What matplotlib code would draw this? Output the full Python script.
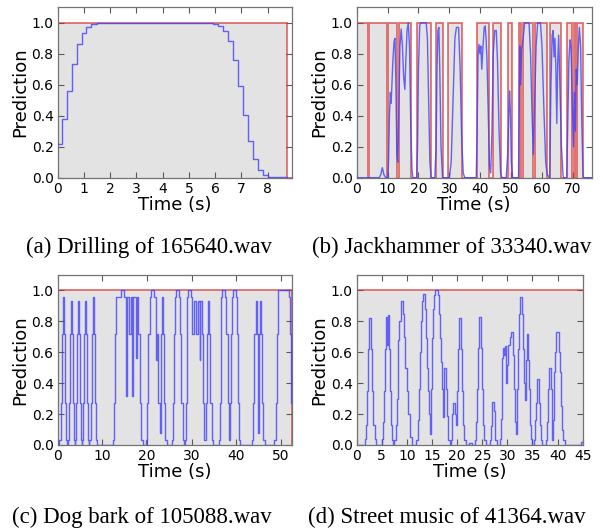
import numpy as np
import matplotlib
matplotlib.use("Agg")
import matplotlib.pyplot as plt

plt.rcParams["font.family"] = ["DejaVu Sans"]

# ---------------- data ----------------
# (a) Drilling of 165640.wav  (step prediction, ground-truth segments)
a_time = [0, 0.165, 0.343, 0.533, 0.724, 0.914, 1.08, 1.27, 1.486,
          5.93, 6.12, 6.31, 6.50, 6.67, 6.86, 7.07, 7.26, 7.45, 7.64, 7.83, 8.03, 8.75]
a_pred = [0.216, 0.377, 0.56, 0.733, 0.862, 0.937, 0.976, 0.994, 1.0,
          0.99, 0.98, 0.95, 0.88, 0.76, 0.59, 0.405, 0.235, 0.118, 0.047, 0.017, 0.004, 0.0]
a_on, a_off = [0.0], [8.75]
a_xmax = 8.94

# (b) Jackhammer of 33340.wav
b_time = [0, 7.3, 7.8, 8.3, 8.8, 9.4, 10.1,
          10.3, 10.6, 10.9, 11.1, 11.3, 11.7, 12.1, 12.4, 12.7, 13.0, 13.3, 13.6, 14.0, 14.4, 14.8,
          15.2, 15.6, 15.9, 16.3, 16.7, 17.1, 17.5, 17.9, 18.2,
          19.4, 19.7, 20.0, 20.4, 20.7, 22.5, 22.9, 23.3, 23.7, 24.1,
          25.3, 25.7, 26.0, 26.3, 26.6, 26.9, 27.3, 27.8,
          30.0, 30.6, 31.2, 31.8, 32.3, 33.0, 33.5, 34.0, 34.5, 35.0,
          38.7, 39.0, 39.3, 39.6, 39.9, 40.2, 40.5, 40.9, 41.3, 41.6, 41.9, 42.2, 42.6, 43.0, 43.4,
          43.8, 44.2, 44.7, 45.2, 45.6, 46.1, 46.6, 47.0,
          48.4, 48.9, 49.3, 49.5, 49.8, 50.1, 50.5,
          52.4, 52.6, 52.8, 53.1, 53.4, 53.9, 54.4, 55.0, 55.8, 56.3, 56.8, 57.2, 57.6, 58.1, 58.6,
          59.5, 60.0, 60.6, 61.2, 61.7,
          62.5, 62.9, 63.3, 63.6, 63.9, 64.2, 64.5, 64.8, 65.1, 65.4, 65.8, 66.3, 66.8, 67.0,
          68.0, 68.3, 68.7, 69.1, 69.4, 69.8, 70.2, 70.5, 70.8, 71.1, 71.4, 71.8, 72.1, 72.5, 72.9,
          73.3, 73.5, 76.1]
b_pred = [0, 0, 0.02, 0.065, 0.02, 0, 0,
          0.1, 0.4, 0.55, 0.48, 0.55, 0.75, 0.88, 0.9, 0.6, 0.15, 0.1, 0.4, 0.85, 0.96, 0.85,
          0.65, 0.57, 0.75, 0.95, 1.0, 0.85, 0.35, 0.05, 0,
          0, 0.2, 0.7, 0.98, 1.0, 1.0, 0.9, 0.5, 0.1, 0,
          0, 0.2, 0.7, 0.95, 0.97, 0.7, 0.2, 0,
          0, 0.1, 0.5, 0.9, 0.97, 0.97, 0.7, 0.25, 0.03, 0,
          0, 0.3, 0.8, 0.86, 0.8, 0.85, 0.7, 0.85, 0.97, 0.98, 0.9, 0.75, 0.4, 0.08, 0.03,
          0.3, 0.8, 0.95, 0.95, 0.75, 0.3, 0.03, 0,
          0, 0.15, 0.45, 0.56, 0.4, 0.1, 0,
          0, 0.4, 0.85, 0.6, 0.82, 0.9, 1.0, 1.0, 1.0, 0.8, 0.4, 0.15, 0.45, 0.85, 1.0,
          1.0, 0.85, 0.45, 0.1, 0.02,
          0, 0.6, 0.92, 0.95, 0.78, 0.9, 0.7, 0.35, 0.75, 0.92, 0.6, 0.2, 0.02, 0,
          0, 0.3, 0.75, 0.89, 0.85, 0.5, 0.2, 0.55, 0.3, 0.7, 0.6, 0.85, 0.97, 0.85, 0.35,
          0.02, 0, 0]
b_on = [0.0, 4.1, 10.2, 13.6, 19.4, 25.8, 29.6, 39.1, 44.0, 48.9, 52.4, 53.7, 57.6, 62.5,
        68.0, 70.4, 71.3]
b_off = [3.5, 9.9, 13.0, 17.6, 24.0, 27.9, 34.0, 43.0, 46.7, 50.3, 53.2, 57.2, 61.7, 66.2,
         69.7, 71.1, 73.2]
b_xmax = 76.1

# (c) Dog bark of 105088.wav  (step prediction)
c_time = [0, 0.4, 0.7, 0.9, 1.13, 1.37, 1.6, 1.8, 2.05,
          2.25, 2.55, 2.75, 2.98, 3.22, 3.45, 3.65, 3.85,
          3.9, 4.15, 4.35, 4.58, 4.82, 5.05, 5.25, 5.45,
          5.5, 5.75, 5.95, 6.18, 6.42, 6.65, 6.85, 7.05,
          7.1, 7.4, 7.6, 7.83, 8.07, 8.3, 8.5, 8.8,
          12.3, 12.6, 12.85, 13.1, 14.3, 14.95, 15.35, 15.55, 15.95, 16.45, 16.7, 16.9, 17.5,
          17.7, 18.05, 18.35, 18.65, 19.05,
          19.8, 20.1, 20.35, 20.6, 20.9, 21.65, 22.1, 22.25, 22.55, 22.95, 23.2, 23.4, 23.65,
          23.9, 24.15, 24.4,
          25.7, 25.95, 26.15, 26.3, 26.45, 27.2, 27.4, 27.7, 28.0, 28.4,
          28.65, 28.8, 28.95, 29.05, 29.2, 29.85, 30.1, 30.55, 30.95, 31.45, 31.85, 32.0, 32.35,
          32.6, 32.9, 33.15, 33.4, 33.65, 33.95, 34.2, 34.5, 34.9,
          36.1, 36.35, 36.55, 36.7, 36.85, 37.6, 37.8, 38.1, 38.4, 38.65, 38.85, 39.05, 39.3,
          40.0, 40.2, 40.45, 40.65, 40.95,
          43.6, 43.9, 44.1, 44.4, 44.7, 44.95, 45.1, 45.3, 45.55, 45.8, 46.05, 46.4,
          48.6, 48.9, 49.1, 49.3, 49.5, 51.95, 52.15, 52.35, 52.55]
c_pred = [0, 0.03, 0.27, 0.72, 0.96, 0.72, 0.27, 0.03, 0,
          0.03, 0.27, 0.72, 0.93, 0.72, 0.27, 0.03, 0,
          0.03, 0.27, 0.72, 0.93, 0.72, 0.27, 0.03, 0,
          0.03, 0.27, 0.72, 0.93, 0.72, 0.27, 0.03, 0,
          0.03, 0.27, 0.72, 0.96, 0.72, 0.27, 0.03, 0,
          0.03, 0.27, 0.72, 0.96, 1.0, 0.96, 0.32, 0.96, 0.72, 0.96, 0.32, 0.96, 0.56,
          0.96, 0.72, 0.27, 0.03, 0,
          0.03, 0.27, 0.72, 0.96, 1.0, 0.96, 0.55, 0.72, 0.27, 0.08, 0.72, 0.96, 0.72,
          0.27, 0.03, 0,
          0.03, 0.27, 0.72, 0.96, 1.0, 0.96, 0.72, 0.27, 0.03, 0,
          0.03, 0.27, 0.72, 0.96, 1.0, 0.96, 0.72, 0.93, 0.72, 0.93, 0.55, 0.93, 0.72,
          0.27, 0.03, 0.27, 0.72, 0.93, 0.72, 0.27, 0.03, 0,
          0.03, 0.27, 0.72, 0.96, 1.0, 0.96, 0.72, 0.27, 0.03, 0.27, 0.72, 0.96, 1.0,
          0.96, 0.72, 0.27, 0.03, 0,
          0.03, 0.27, 0.72, 0.93, 0.72, 0.08, 0.72, 0.93, 0.72, 0.27, 0.03, 0,
          0.03, 0.27, 0.72, 0.96, 1.0, 0.96, 0.72, 0.27, 0.27]
c_on, c_off = [0.0], [52.45]
c_xmax = 52.6

# (d) Street music of 41364.wav  (step prediction)
d_time = [0, 1.65, 1.9, 2.12, 2.32, 2.52, 2.92, 3.12, 3.32, 3.55, 3.8,
          4.95, 5.25, 5.45, 5.65, 5.9, 6.08, 6.18, 6.38, 6.6, 6.8, 7.05, 7.3,
          7.5, 7.75, 7.96, 8.16, 8.3, 8.5, 8.75, 9.25, 9.45, 9.7, 9.95, 10.25, 10.6, 10.95,
          11.9, 12.15, 12.4, 12.65, 12.85, 13.05, 13.2, 13.5, 13.75, 13.95, 14.15, 14.35, 14.55,
          14.75, 14.95, 15.2, 15.45, 15.65, 16.2, 16.4, 16.6, 16.85, 17.05, 17.2,
          17.35, 17.8, 18.0, 18.25, 18.5,
          18.7, 18.95, 19.15, 19.5, 19.7, 19.9, 20.1, 20.35, 20.75, 20.95, 21.15, 21.45, 21.8,
          22.3, 22.9,
          23.55, 23.77, 23.97, 24.17, 24.37, 24.8, 25.0, 25.2, 25.4, 25.65,
          26.55, 26.75, 26.9, 27.02, 27.3, 27.45, 27.6, 27.85,
          28.5, 28.7, 28.85, 29.0, 29.2, 29.35, 29.45, 29.65, 29.75, 30.0, 30.15, 30.45, 30.7,
          31.1, 31.3, 31.5, 31.7,
          31.85, 32.05, 32.3, 32.5, 32.95, 33.15, 33.4, 33.55, 33.7, 33.85, 34.15, 34.3, 34.5,
          34.75, 35.0,
          35.35, 35.55, 35.7, 35.85, 35.95, 36.25, 36.45, 36.65, 36.9,
          37.7, 37.9, 38.1, 38.3, 38.65, 38.8, 38.95,
          39.1, 39.3, 39.5, 39.75, 40.3, 40.45, 40.65, 40.85, 41.1, 41.4,
          44.7, 45.0]
d_pred = [0, 0.04, 0.13, 0.35, 0.62, 0.82, 0.62, 0.35, 0.13, 0.04, 0,
          0.04, 0.15, 0.35, 0.62, 0.83, 0.65, 0.84, 0.62, 0.35, 0.13, 0.03, 0,
          0.03, 0.13, 0.3, 0.5, 0.68, 0.8, 0.935, 0.85, 0.7, 0.5, 0.35, 0.2, 0.05, 0,
          0.03, 0.16, 0.36, 0.6, 0.8, 0.93, 0.98, 0.88, 0.69, 0.5, 0.35, 0.2, 0.07,
          0.36, 0.69, 0.88, 0.97, 1.0, 0.97, 0.85, 0.69, 0.54, 0.36, 0.18,
          0.5, 0.36, 0.19, 0.03, 0,
          0.03, 0.2, 0.27, 0.2, 0.13, 0.35, 0.62, 0.82, 0.62, 0.35, 0.13, 0.03, 0,
          0.015, 0,
          0.03, 0.15, 0.36, 0.63, 0.83, 0.63, 0.36, 0.13, 0.03, 0,
          0.03, 0.12, 0.22, 0.28, 0.22, 0.12, 0.03, 0,
          0.04, 0.17, 0.36, 0.56, 0.63, 0.58, 0.64, 0.5, 0.4, 0.52, 0.65, 0.7, 0.73,
          0.58, 0.36, 0.15, 0.07,
          0.36, 0.62, 0.85, 0.96, 0.85, 0.62, 0.4, 0.29, 0.55, 0.72, 0.55, 0.36, 0.13,
          0.04, 0,
          0.03, 0.16, 0.27, 0.4, 0.43, 0.27, 0.13, 0.03, 0,
          0.03, 0.15, 0.36, 0.5, 0.36, 0.15, 0.03,
          0.16, 0.47, 0.6, 0.73, 0.6, 0.47, 0.25, 0.1, 0.03, 0,
          0.02, 0.02]
d_on, d_off = [0.0], [45.5]
d_xmax = 45.0

captions = ["(a) Drilling of 165640.wav", "(b) Jackhammer of 33340.wav",
            "(c) Dog bark of 105088.wav", "(d) Street music of 41364.wav"]
a_ticks = [0, 1, 2, 3, 4, 5, 6, 7, 8]
b_ticks = [0, 10, 20, 30, 40, 50, 60, 70]
c_ticks = [0, 10, 20, 30, 40, 50]
d_ticks = [0, 5, 10, 15, 20, 25, 30, 35, 40, 45]
y_ticks = [0.0, 0.2, 0.4, 0.6, 0.8, 1.0]

# ---------------- drawing ----------------
W, H = 603, 529
fig = plt.figure(figsize=(W / 100, H / 100), dpi=100)

BLUE = (0.25, 0.25, 1.0)
RED = (0.85, 0.15, 0.15)
GRAY = "#e3e3e3"


def box(l, t, r, b):
    return [l / W, 1 - b / H, (r - l) / W, (b - t) / H]


def label_curve(on, off, xmax):
    xs, ys = [], []
    for s, e in zip(on, off):
        xs += [s, s, e, e]
        ys += [0, 1, 1, 0]
    if xs[-1] < xmax:
        xs.append(xmax)
        ys.append(0)
    return np.array(xs), np.array(ys)


def panel(rect, t, p, on, off, xmax, xticks, stepped=True):
    ax = fig.add_axes(rect)
    lx, ly = label_curve(on, off, xmax)
    ax.fill_between(lx, 0, ly, color=GRAY, linewidth=0, zorder=1)
    ax.plot(lx, ly, color=RED, lw=1.3, alpha=0.65, zorder=2, solid_joinstyle="miter")
    if stepped:
        ax.step(t, p, where="post", color=BLUE, lw=1.0, alpha=0.8, zorder=3)
    else:
        ax.plot(t, p, color=BLUE, lw=1.0, alpha=0.8, zorder=3)
    ax.set_xlim(0, xmax)
    ax.set_ylim(0, 1.1)
    ax.set_xticks(xticks)
    ax.set_yticks(y_ticks)
    ax.set_yticklabels(["%.1f" % v for v in y_ticks])
    ax.tick_params(direction="in", top=True, right=True, length=4, width=0.8,
                   color="0.35", labelsize=10, pad=3)
    for s in ax.spines.values():
        s.set_color("0.45")
        s.set_linewidth(0.9)
    ax.set_xlabel("Time (s)", fontsize=13, labelpad=0)
    ax.set_ylabel("Prediction", fontsize=13, labelpad=2)
    return ax


panel(box(57.7, 7.3, 292.3, 177.7), a_time, a_pred, a_on, a_off, a_xmax, a_ticks)
panel(box(356.7, 7.3, 591.7, 177.7), b_time, b_pred, b_on, b_off, b_xmax, b_ticks, stepped=False)
panel(box(57.7, 275.0, 292.3, 445.0), c_time, c_pred, c_on, c_off, c_xmax, c_ticks)
panel(box(356.7, 275.0, 582.7, 445.0), d_time, d_pred, d_on, d_off, d_xmax, d_ticks)

cap_pos = [(149, 247), (452, 247), (142, 517), (447, 517)]
for (cx, cy), txt in zip(cap_pos, captions):
    fig.text(cx / W, 1 - cy / H, txt, ha="center", va="center",
             family="Liberation Serif", fontsize=16.5)

fig.savefig("out.png", dpi=100)
